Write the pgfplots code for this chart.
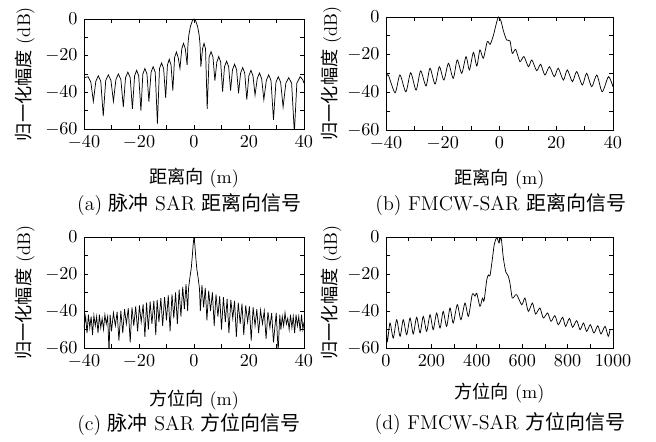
\documentclass[border=0pt]{standalone}
\usepackage{fontspec}
\usepackage{pgfplots}
\pgfplotsset{compat=1.18}
\newfontfamily\cjk{Noto Sans CJK SC}
\pgfplotsset{
  myax/.style={scale only axis, ymin=-60, ymax=0,
    ytick={-60,-40,-20,0}, minor ytick={-50,-30,-10},
    tick align=inside, xtick pos=both, ytick pos=both,
    major tick length=2pt, minor tick length=2pt,
    tick style={black, line width=0.4pt},
    axis line style={black, line width=0.45pt},
    /pgf/number format/1000 sep={},
    ylabel={{\cjk 归一化幅度} (dB)},
  },
  sig/.style={black, line width=0.4pt, mark=none},
}
\tikzset{capt/.style={anchor=center, font=\fontsize{11}{13}\selectfont}}
\begin{document}
\begin{tikzpicture}
\useasboundingbox (0pt,0pt) rectangle (360.8pt,243.1pt);
% (a)
\begin{axis}[myax, at={(46.2pt,172.15pt)}, anchor=south west, width=121pt, height=60.5pt,
  xmin=-40, xmax=40, xtick={-40,-20,0,20,40}, minor xtick={-30,-10,10,30},
  xlabel={{\cjk 距离向} (m)},
  xlabel style={at={(axis description cs:0.5,-0.445)}, anchor=center},
  ylabel style={at={(axis description cs:-0.27,0.5)}, anchor=center}]
\addplot[sig] coordinates {
(-40,-32) (-38.5,-31.5) (-37.5,-34.5) (-36.6,-45)
(-35.7,-34) (-34.8,-31) (-33.9,-34) (-33.0,-53)
(-32.1,-33.5) (-31.15,-30.5) (-30.2,-33.5) (-29.3,-45)
(-28.4,-33) (-27.5,-30) (-26.6,-33) (-25.7,-48)
(-24.9,-32) (-24.05,-29) (-23.2,-32) (-22.4,-49)
(-21.6,-31) (-20.85,-28) (-20.1,-31) (-19.3,-50)
(-18.6,-30) (-17.85,-27) (-17.1,-30) (-16.4,-45)
(-15.6,-29) (-14.85,-26) (-14.1,-29) (-13.3,-57)
(-12.55,-27) (-11.8,-24) (-11.05,-27) (-10.3,-43)
(-9.65,-25) (-9.0,-22) (-8.35,-25) (-7.7,-39)
(-7.05,-21) (-6.4,-18) (-5.75,-21) (-5.1,-27)
(-4.45,-16.3) (-3.8,-13.3) (-3.15,-16.3) (-2.5,-25)
(-2.2,-14) (-1.9,-9) (-1.3,-4) (-0.6,-1) (0,0) (0.6,-1) (1.3,-4) (1.9,-9) (2.2,-14) (2.5,-26)
(3.1,-16.3) (3.65,-13.3) (4.2,-16.3) (4.8,-49)
(5.5,-20.8) (6.2,-17.8) (6.9,-20.8) (7.6,-33.6)
(8.3,-23.5) (9.0,-20.5) (9.7,-23.5) (10.4,-39.6)
(11.1,-26) (11.85,-23) (12.6,-26) (13.3,-39)
(14.0,-27.7) (14.75,-24.7) (15.5,-27.7) (16.2,-40.5)
(16.95,-29.5) (17.7,-26.5) (18.45,-29.5) (19.2,-44)
(19.95,-31) (20.7,-28) (21.45,-31) (22.2,-41.5)
(23.0,-32.5) (23.8,-29.5) (24.6,-32.5) (25.4,-44)
(26.3,-33.5) (27.15,-30.5) (28.0,-33.5) (28.9,-55)
(29.8,-34.5) (30.65,-31.5) (31.5,-34.5) (32.4,-48)
(33.4,-35) (34.45,-32) (35.5,-35) (36.5,-62)
(37.4,-35) (38.6,-31.5) (39.5,-33) (40,-35)
};
\end{axis}
\node[capt] at (104.2pt,130.35pt) {(a)~{\cjk 脉冲} SAR {\cjk 距离向信号}};
% (b)
\begin{axis}[myax, at={(212.3pt,171.6pt)}, anchor=south west, width=124.85pt, height=62.15pt,
  xmin=-40, xmax=40, xtick={-40,-20,0,20,40}, minor xtick={-30,-10,10,30},
  xlabel={{\cjk 距离向} (m)},
  xlabel style={at={(axis description cs:0.5,-0.434)}, anchor=center},
  ylabel style={at={(axis description cs:-0.24,0.5)}, anchor=center}]
\addplot[sig, smooth, tension=0.45] coordinates {
(-40,-32.6) (-39.2,-30.8) (-36.8,-40.2) (-35.1,-30.8) (-33.0,-39.7) (-31.3,-29.6)
(-29.4,-38.8) (-27.8,-28.6) (-25.9,-36.6) (-24.5,-27.2) (-22.7,-35.6) (-21.2,-26.4)
(-19.6,-33.5) (-18.0,-24.6) (-16.3,-32.6) (-14.9,-22.8) (-13.3,-29.9) (-11.8,-21.1)
(-10.6,-28.1) (-9.2,-18.8) (-8.0,-26.0) (-6.9,-17.5) (-5.7,-21.9) (-4.3,-13.1)
(-3.3,-14.5) (-2.2,-10) (-1.2,-4) (-0.4,0) (0.5,-2) (1.3,-6.9) (2.5,-12.2) (3.7,-12.7)
(4.5,-19.3) (5.7,-17.2) (7.2,-23.7) (8.6,-21) (10.2,-26.4) (11.4,-22.8) (13.1,-28.5)
(14.5,-25.1) (16.0,-30.8) (17.6,-26.4) (19.3,-31.7) (20.7,-27.2) (22.5,-33.5) (23.9,-28.1)
(25.7,-34.3) (27.2,-29) (29.2,-36.1) (30.7,-29.9) (32.5,-37) (34.3,-30.8) (36.2,-39.7)
(38.4,-31.7) (40,-37)
};
\end{axis}
\node[capt] at (275.4pt,130.35pt) {(b) FMCW-SAR {\cjk 距离向信号}};
% (c)
\begin{axis}[myax, at={(46.2pt,51.7pt)}, anchor=south west, width=121pt, height=61.05pt,
  xmin=-40, xmax=40, xtick={-40,-20,0,20,40}, minor xtick={-30,-10,10,30},
  xlabel={{\cjk 方位向} (m)},
  xlabel style={at={(axis description cs:0.5,-0.47)}, anchor=center},
  ylabel style={at={(axis description cs:-0.27,0.5)}, anchor=center}]
\addplot[sig] coordinates {
(-40,-49) (-39.4,-43) (-38.9,-52) (-38.4,-42) (-37.9,-49) (-37.4,-43) (-36.9,-53)
(-36.4,-42.5) (-35.9,-48) (-35.4,-43) (-34.9,-52) (-34.4,-42) (-33.9,-49) (-33.4,-44)
(-32.9,-50) (-32.4,-42) (-31.9,-47) (-31.4,-43) (-30.9,-62) (-30.5,-42) (-30.0,-51)
(-29.3,-41) (-28.6,-48) (-27.95,-40.5) (-27.3,-56) (-26.6,-40) (-25.9,-52) (-25.25,-39)
(-24.6,-47) (-23.9,-38.5) (-23.2,-57) (-22.55,-38) (-21.9,-48) (-21.2,-37.5) (-20.5,-51)
(-19.85,-37) (-19.2,-46) (-18.5,-36.5) (-17.85,-54) (-17.25,-35.5) (-16.6,-50) (-15.95,-35)
(-15.3,-47) (-14.6,-34.5) (-13.9,-53) (-13.4,-34) (-12.75,-46) (-12.05,-33) (-11.4,-48)
(-10.7,-32.5) (-10.0,-45) (-9.35,-31.5) (-8.7,-51) (-8.0,-31) (-7.35,-44) (-6.7,-30)
(-6.05,-47) (-5.4,-28.5) (-4.75,-43) (-4.1,-27) (-3.5,-39) (-2.9,-25.5) (-2.3,-40)
(-2.0,-28) (-1.5,-22) (-1.0,-17) (-0.6,-10) (-0.3,-4) (0,0) (0.3,-4) (0.6,-10) (1.0,-17)
(1.5,-22) (2.0,-28) (2.3,-40)
(2.9,-26) (3.5,-38) (4.1,-27.5) (4.7,-45) (5.35,-29) (6.0,-40) (6.7,-30) (7.35,-48)
(8.0,-31) (8.7,-43) (9.35,-32) (10.0,-50) (10.7,-32.5) (11.4,-46) (12.05,-33.5) (12.7,-52)
(13.4,-34) (14.1,-44) (14.75,-34.5) (15.4,-54) (16.1,-35.5) (16.8,-47) (17.45,-36)
(18.1,-53) (18.8,-37) (19.5,-46) (20.15,-37.5) (20.8,-56) (21.5,-38) (22.2,-48)
(22.85,-39) (23.5,-52) (24.2,-39.5) (24.9,-47) (25.55,-40) (26.2,-55) (26.9,-40.5)
(27.6,-49) (28.25,-41) (28.9,-57) (29.9,-41) (30.6,-62) (31.2,-42) (31.6,-50) (32.1,-43)
(32.6,-48) (33.1,-41) (33.6,-47) (34.1,-44) (34.6,-50) (35.1,-42) (35.6,-49) (36.1,-43)
(36.6,-52) (37.1,-42) (37.6,-48) (38.1,-43) (38.6,-51) (39.1,-42) (39.6,-50) (40,-46)
};
\end{axis}
\node[capt] at (104pt,9.35pt) {(c)~{\cjk 脉冲} SAR {\cjk 方位向信号}};
% (d)
\begin{axis}[myax, at={(212.3pt,51.7pt)}, anchor=south west, width=124.85pt, height=61.05pt,
  xmin=0, xmax=1000, xtick={0,200,...,1000}, minor xtick={100,300,...,900},
  xlabel={{\cjk 方位向} (m)},
  xlabel style={at={(axis description cs:0.5,-0.41)}, anchor=center},
  ylabel style={at={(axis description cs:-0.24,0.5)}, anchor=center}]
\addplot[sig, smooth, tension=0.45] coordinates {
(0,-47.4) (6,-56.4) (17.6,-46.5) (32,-54.6) (47,-44.7) (62,-53.7) (76,-44.7) (91,-52.8)
(106,-43.8) (120,-52.4) (135,-43.4) (150,-51.9) (164,-42.9) (179,-51) (194,-42) (208,-50.1)
(223,-41.1) (238,-49.2) (252,-40.2) (267,-48.3) (282,-38.4) (296,-46.5) (314,-36.6)
(330,-44.7) (348,-35.7) (363,-42.9) (380,-31) (392,-32) (400,-30.5) (414,-37.5) (425,-33)
(432,-34.5) (444,-23) (452,-20.5) (458,-21) (468,-12.4) (477,-4) (488,-0.3) (498,-3.2)
(507,-0.3) (517,-11.4) (528,-19) (538,-21) (546,-24.9) (556,-33) (566,-32) (576,-31.2)
(598,-36.6) (612,-33) (627,-40.2) (645,-35.7) (659,-41.6) (678,-38.4) (693,-43.8)
(712,-41.1) (727,-45.6) (744,-42.5) (759,-47.4) (778,-43.4) (791,-48.3) (808,-44)
(822,-48.8) (840,-45.2) (855,-50.1) (870,-46.5) (884,-51) (900,-47.4) (916,-51.9)
(933,-48) (947,-52.4) (965,-48.3) (979,-53.7) (987,-50)
};
\end{axis}
\node[capt] at (275pt,9.9pt) {(d) FMCW-SAR {\cjk 方位向信号}};
\end{tikzpicture}
\end{document}
